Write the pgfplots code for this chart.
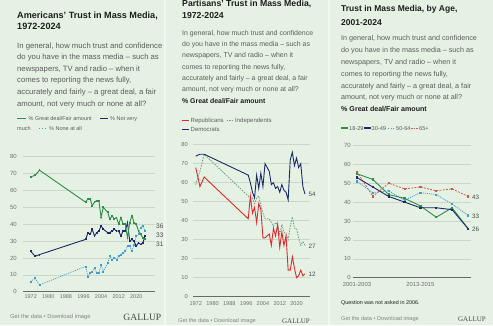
\documentclass[border=0pt]{standalone}
\usepackage{fontspec}
\setmainfont{Liberation Sans}
\newfontfamily\gallupfont{Liberation Serif}
\usepackage{pgfplots}
\pgfplotsset{compat=1.18}
\definecolor{bg}{HTML}{E5F1E3}
\definecolor{divc}{HTML}{F2F8F1}
\definecolor{gridc}{HTML}{CBD7C9}
\definecolor{axisc}{HTML}{6A6A6A}
\definecolor{tickc}{HTML}{707070}
\definecolor{titlec}{HTML}{1E1E1E}
\definecolor{bodyc}{HTML}{5C5C5C}
\definecolor{footc}{HTML}{858585}
\definecolor{endc}{HTML}{4A4A4A}
\definecolor{cgreen}{HTML}{2E8F4A}
\definecolor{cnavy}{HTML}{1C2A6B}
\definecolor{cblue}{HTML}{3E9BD3}
\definecolor{cred}{HTML}{E02A2F}
\definecolor{cind}{HTML}{6E9C80}
\definecolor{cold}{HTML}{D9534F}
\newcommand{\fs}[2]{\fontsize{#1}{#2}\selectfont}
\newcommand{\T}[4]{\node[anchor=base west,inner sep=0pt,font=#3] at ({#1},{325-#2}) {#4};}
\newcommand{\TE}[4]{\node[anchor=base east,inner sep=0pt,font=#3] at ({#1},{325-#2}) {#4};}
\pgfplotsset{
  panel/.style={
    scale only axis, anchor=south west,
    axis line style={draw=none},
    major tick length=0pt,
    ymajorgrids, grid style={gridc, line width=0.5pt},
    tick label style={text=tickc},
    /pgf/number format/assume math mode=true,
    /pgf/number format/1000 sep={},
    clip=false,
    ymin=0,
  }
}
\begin{document}
\begin{tikzpicture}[x=1pt,y=1pt]
\useasboundingbox (0,0) rectangle (493,325);
\fill[bg] (0,0) rectangle (493,325);
\fill[divc] (163.5,0) rectangle (165.5,325);
\fill[divc] (327.5,0) rectangle (329.5,325);

% ---------------- Panel 1 ----------------
\T{17}{18.3}{\fs{9.1}{11}\bfseries\color{titlec}}{Americans' Trust in Mass Media,}
\T{17}{30}{\fs{9.1}{11}\bfseries\color{titlec}}{1972-2024}
\T{17}{48}{\fs{7.7}{9}\color{bodyc}}{In general, how much trust and confidence}
\T{17}{59.6}{\fs{7.7}{9}\color{bodyc}}{do you have in the mass media -- such as}
\T{17}{71.2}{\fs{7.7}{9}\color{bodyc}}{newspapers, TV and radio -- when it}
\T{17}{82.8}{\fs{7.7}{9}\color{bodyc}}{comes to reporting the news fully,}
\T{17}{94.4}{\fs{7.7}{9}\color{bodyc}}{accurately and fairly -- a great deal, a fair}
\T{17}{106}{\fs{7.7}{9}\color{bodyc}}{amount, not very much or none at all?}
\draw[cgreen,line width=1.2pt] (17,{325-118.6}) -- (26,{325-118.6});
\T{28.5}{120.5}{\fs{5.5}{6}\color{bodyc}}{\% Great deal/Fair amount}
\draw[cnavy,line width=1.2pt] (100,{325-118.6}) -- (108,{325-118.6});
\T{110}{120.5}{\fs{5.5}{6}\color{bodyc}}{\% Not very}
\T{17}{130.5}{\fs{5.5}{6}\color{bodyc}}{much}
\draw[cblue,line width=0.8pt,dotted] (39,{325-128.6}) -- (47,{325-128.6});
\T{49}{130.5}{\fs{5.5}{6}\color{bodyc}}{\% None at all}

\begin{axis}[panel, at={(23pt,33.3pt)}, width=132pt, height=135pt,
  xmin=1968.5, xmax=2028.5, ymax=80,
  ytick={0,10,...,80}, xtick={1972,1980,1988,1996,2004,2012,2020},
  yticklabel style={font=\fs{6}{7}, anchor=east, inner sep=0pt, xshift=-6pt},
  xticklabel style={font=\fs{5.5}{6}, anchor=north, inner sep=0pt, yshift=-3pt}]
\draw[axisc,line width=0.6pt] (axis cs:1968.5,0) -- (axis cs:2028.5,0);
\addplot[cblue, line width=0.7pt, dash pattern=on 1pt off 1pt, mark=square*, mark size=0.5pt, mark options={solid}] coordinates {
(1972,6) (1974,8) (1976,4) (1997,15) (1998,9) (1999,11) (2000,12) (2001,14) (2002,11) (2003,11)
(2004,16) (2005,12) (2007,17) (2008,21) (2009,19) (2010,20) (2011,19) (2012,21) (2013,22)
(2014,23) (2015,24) (2016,27) (2017,27) (2018,24) (2019,28) (2020,33) (2021,34) (2022,38) (2023,39) (2024,36)};
\addplot[cnavy, line width=0.9pt, mark=square*, mark size=0.45pt] coordinates {
(1972,24) (1974,21) (1976,22) (1997,31) (1998,35) (1999,34) (2000,37) (2001,33) (2002,35) (2003,36)
(2004,39) (2005,37) (2007,35) (2008,35) (2009,36) (2010,37) (2011,36) (2012,36) (2013,33)
(2014,36) (2015,36) (2016,41) (2017,30) (2018,31) (2019,30) (2020,27) (2021,29) (2022,28) (2023,29) (2024,33)};
\addplot[cgreen, line width=0.9pt, mark=square*, mark size=0.45pt] coordinates {
(1972,68) (1974,69) (1976,72) (1997,53) (1998,55) (1999,55) (2000,51) (2001,53) (2002,54) (2003,54)
(2004,44) (2005,50) (2007,47) (2008,43) (2009,45) (2010,43) (2011,44) (2012,40) (2013,44)
(2014,40) (2015,40) (2016,32) (2017,41) (2018,45) (2019,41) (2020,40) (2021,36) (2022,34) (2023,32) (2024,31)};
\end{axis}
\T{156}{228.3}{\fs{6.6}{7}\color{endc}}{36}
\T{156}{237.3}{\fs{6.6}{7}\color{endc}}{33}
\T{156}{246.6}{\fs{6.6}{7}\color{endc}}{31}
\T{10}{318.7}{\fs{5.8}{7}\color{footc}}{Get the data • Download image}
\TE{161.5}{320}{\fs{9.6}{10}\gallupfont\color{endc}}{GALLUP}

% ---------------- Panel 2 ----------------
\T{182}{6.7}{\fs{8.7}{10}\bfseries\color{titlec}}{Partisans' Trust in Mass Media,}
\T{182}{19}{\fs{8.7}{10}\bfseries\color{titlec}}{1972-2024}
\T{182}{35.2}{\fs{6.95}{8}\color{bodyc}}{In general, how much trust and confidence}
\T{182}{46.5}{\fs{6.95}{8}\color{bodyc}}{do you have in the mass media -- such as}
\T{182}{57.8}{\fs{6.95}{8}\color{bodyc}}{newspapers, TV and radio -- when it}
\T{182}{69.1}{\fs{6.95}{8}\color{bodyc}}{comes to reporting the news fully,}
\T{182}{80.4}{\fs{6.95}{8}\color{bodyc}}{accurately and fairly -- a great deal, a fair}
\T{182}{91.7}{\fs{6.95}{8}\color{bodyc}}{amount, not very much or none at all?}
\T{182}{103.3}{\fs{6.9}{8}\bfseries\color{titlec}}{\% Great deal/Fair amount}
\draw[cred,line width=1.2pt] (182,{325-120.2}) -- (189,{325-120.2});
\T{190.5}{122}{\fs{6}{7}\color{bodyc}}{Republicans}
\draw[cind,line width=0.8pt,dash pattern=on 1.5pt off 1.2pt] (226.5,{325-120.2}) -- (233.5,{325-120.2});
\T{235}{122}{\fs{6}{7}\color{bodyc}}{Independents}
\draw[cnavy,line width=1.2pt] (182,{325-129.7}) -- (189,{325-129.7});
\T{190.5}{131.5}{\fs{6}{7}\color{bodyc}}{Democrats}

\begin{axis}[panel, at={(193pt,28.3pt)}, width=117pt, height=152pt,
  xmin=1970.7, xmax=2026.4, ymax=80,
  ytick={0,10,...,80}, xtick={1972,1980,1988,1996,2004,2012,2020},
  yticklabel style={font=\fs{5.8}{7}, anchor=east, inner sep=0pt, xshift=-5pt},
  xticklabel style={font=\fs{5.6}{6}, anchor=north, inner sep=0pt, yshift=-5pt}]
\draw[axisc,line width=0.6pt] (axis cs:1970.7,0) -- (axis cs:2026.4,0);
\addplot[cind, line width=0.8pt, dash pattern=on 1.5pt off 1.2pt] coordinates {
(1972,59) (1974,66) (1976,75) (1997,53) (1998,52) (1999,52) (2000,49) (2001,52) (2002,53) (2003,48)
(2004,44) (2005,41) (2007,41) (2008,39) (2009,37) (2010,39) (2011,38) (2012,33) (2013,38)
(2014,34) (2015,33) (2016,30) (2017,37) (2018,42) (2019,36) (2020,36) (2021,31) (2022,27) (2023,29) (2024,27)};
\addplot[cnavy, line width=0.9pt] coordinates {
(1972,74) (1974,75) (1976,75) (1997,64) (1998,60) (1999,55) (2000,52) (2001,64) (2002,57) (2003,65)
(2004,58) (2005,70) (2007,66) (2008,59) (2009,60) (2010,57) (2011,58) (2012,55) (2013,59)
(2014,56) (2015,55) (2016,51) (2017,72) (2018,76) (2019,69) (2020,73) (2021,68) (2022,70) (2023,58) (2024,54)};
\addplot[cred, line width=0.9pt] coordinates {
(1972,68) (1974,58) (1976,63) (1997,41) (1998,53) (1999,44) (2000,47) (2001,39) (2002,49) (2003,46)
(2004,31) (2005,31) (2007,33) (2008,27) (2009,36) (2010,32) (2011,38) (2012,26) (2013,34)
(2014,27) (2015,32) (2016,14) (2017,14) (2018,21) (2019,15) (2020,10) (2021,11) (2022,14) (2023,11) (2024,12)};
\end{axis}
\T{308.3}{196.5}{\fs{6.3}{7}\color{endc}}{54}
\T{308.3}{248.2}{\fs{6.3}{7}\color{endc}}{27}
\T{308.3}{276.5}{\fs{6.3}{7}\color{endc}}{12}
\T{178}{322.5}{\fs{5.6}{7}\color{footc}}{Get the data • Download image}
\TE{310}{323}{\fs{7}{8}\gallupfont\color{endc}}{GALLUP}

% ---------------- Panel 3 ----------------
\T{341}{11.7}{\fs{8.5}{10}\bfseries\color{titlec}}{Trust in Mass Media, by Age,}
\T{341}{25}{\fs{8.5}{10}\bfseries\color{titlec}}{2001-2024}
\T{341}{40.8}{\fs{7.2}{8}\color{bodyc}}{In general, how much trust and confidence}
\T{341}{52.6}{\fs{7.2}{8}\color{bodyc}}{do you have in the mass media -- such as}
\T{341}{64.4}{\fs{7.2}{8}\color{bodyc}}{newspapers, TV and radio -- when it}
\T{341}{76.2}{\fs{7.2}{8}\color{bodyc}}{comes to reporting the news fully,}
\T{341}{88}{\fs{7.2}{8}\color{bodyc}}{accurately and fairly -- a great deal, a fair}
\T{341}{99.8}{\fs{7.2}{8}\color{bodyc}}{amount, not very much or none at all?}
\T{341}{111.5}{\fs{7.1}{8}\bfseries\color{titlec}}{\% Great deal/Fair amount}
\draw[cgreen,line width=1.2pt] (341,{325-128}) -- (348,{325-128});
\T{349}{130}{\fs{5.6}{6}\color{bodyc}}{18-29}
\draw[cnavy,line width=1.2pt] (364,{325-128}) -- (370.7,{325-128});
\T{371.5}{130}{\fs{5.6}{6}\color{bodyc}}{30-49}
\draw[cblue,line width=0.8pt,dotted] (385,{325-128}) -- (394.5,{325-128});
\T{396}{130}{\fs{5.6}{6}\color{bodyc}}{50-64}
\draw[cold,line width=0.8pt,dash pattern=on 1.5pt off 1.2pt] (411,{325-128}) -- (418,{325-128});
\T{419}{130}{\fs{5.6}{6}\color{bodyc}}{65+}

\begin{axis}[panel, at={(353pt,47.3pt)}, width=118pt, height=132.3pt,
  xmin=-0.25, xmax=7.19, ymax=70,
  ytick={0,10,...,70}, xtick={0,4}, xticklabels={2001-2003,2013-2015},
  yticklabel style={font=\fs{6}{7}, anchor=east, inner sep=0pt, xshift=-2pt},
  xticklabel style={font=\fs{5.9}{7}, anchor=north, inner sep=0pt, yshift=-4.6pt}]
\draw[axisc,line width=0.6pt] (axis cs:-0.25,0) -- (axis cs:7.19,0);
\addplot[cold, line width=0.8pt, dash pattern=on 1.8pt off 1.4pt, mark=square*, mark size=0.6pt, mark options={solid}] coordinates {
(0,56) (1,43) (2,50) (3,47) (4,48) (5,46) (6,47) (7,43)};
\addplot[cblue, line width=0.8pt, dash pattern=on 1pt off 1pt, mark=square*, mark size=0.6pt, mark options={solid}] coordinates {
(0,51) (1,45) (2,46) (3,41) (4,45) (5,44) (6,39) (7,33)};
\addplot[cgreen, line width=0.9pt, mark=square*, mark size=0.6pt] coordinates {
(0,55) (1,52) (2,44) (3,42) (4,38) (5,32) (6,37) (7,26)};
\addplot[cnavy, line width=0.9pt, mark=square*, mark size=0.6pt] coordinates {
(0,53) (1,48) (2,43) (3,40) (4,37) (5,37) (6,36) (7,26)};
\end{axis}
\T{472}{199}{\fs{6.3}{7}\color{endc}}{43}
\T{472}{218}{\fs{6.3}{7}\color{endc}}{33}
\T{472}{231.3}{\fs{6.3}{7}\color{endc}}{26}
\T{341}{304.5}{\fs{5.4}{6}\color{titlec}}{Question was not asked in 2006.}
\T{341}{320.5}{\fs{5.6}{7}\color{footc}}{Get the data • Download image}
\TE{486}{321}{\fs{7}{8}\gallupfont\color{endc}}{GALLUP}
\end{tikzpicture}
\end{document}
